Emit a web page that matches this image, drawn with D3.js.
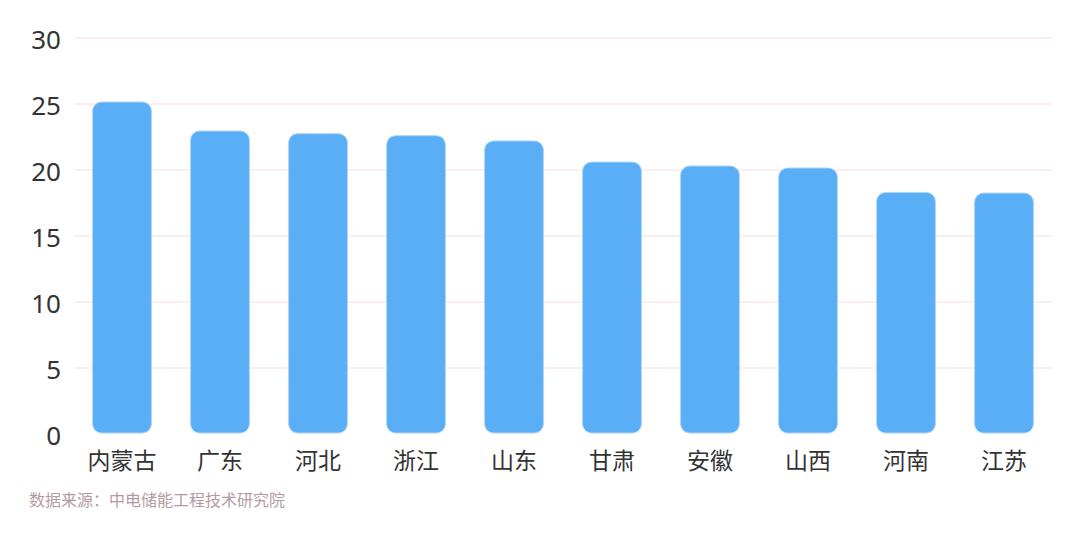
<!DOCTYPE html>
<html lang="zh">
<head>
    <meta charset="UTF-8">
    <title>各省数据</title>
    <script src="https://d3js.org/d3.v7.min.js"></script>
    <style>
        body {
            margin: 0;
            background-color: #ffffff;
            font-family: "Noto Sans CJK SC", "Noto Sans", sans-serif;
        }
        .grid line {
            stroke: #f8dbe3;
            stroke-width: 1px;
        }
        .bar {
            fill: #5aaef5;
            stroke: #a9d4fa;
            stroke-width: 1px;
        }
        .y-label {
            fill: #333;
            font-family: "Noto Sans", sans-serif;
            font-size: 26px;
        }
        .x-label {
            fill: #333;
            font-size: 23px;
        }
        .source {
            fill: #b49ba3;
            font-size: 16px;
        }
    </style>
</head>
<body>
    <svg id="chart" width="1080" height="540"></svg>
    <script>
        // Data
        const provinces = ["内蒙古", "广东", "河北", "浙江", "山东", "甘肃", "安徽", "山西", "河南", "江苏"];
        const values = [25.15, 22.95, 22.75, 22.6, 22.2, 20.6, 20.3, 20.15, 18.3, 18.25];
        const yTicks = [0, 5, 10, 15, 20, 25, 30];
        const sourceText = "数据来源：中电储能工程技术研究院";

        const svg = d3.select("#chart");

        const x = d3.scaleBand()
            .domain(provinces)
            .range([73, 1053])
            .paddingInner(0.4)
            .paddingOuter(0.2);

        const y = d3.scaleLinear()
            .domain([0, 30])
            .range([434, 38]);

        // Gridlines
        svg.append("g")
            .attr("class", "grid")
            .selectAll("line")
            .data(yTicks.filter(d => d > 0))
            .enter()
            .append("line")
            .attr("x1", 75)
            .attr("x2", 1052)
            .attr("y1", d => y(d))
            .attr("y2", d => y(d));

        // Y labels
        svg.append("g")
            .selectAll("text")
            .data(yTicks)
            .enter()
            .append("text")
            .attr("class", "y-label")
            .attr("x", 61)
            .attr("y", d => y(d) + 2)
            .attr("dy", "0.35em")
            .attr("text-anchor", "end")
            .text(d => d);

        // Bars
        svg.append("g")
            .selectAll("rect")
            .data(provinces)
            .enter()
            .append("rect")
            .attr("class", "bar")
            .attr("x", d => x(d))
            .attr("width", x.bandwidth())
            .attr("y", (d, i) => y(values[i]))
            .attr("height", (d, i) => y(0) - y(values[i]) - 1)
            .attr("rx", 9)
            .attr("ry", 9);

        // X labels
        svg.append("g")
            .selectAll("text")
            .data(provinces)
            .enter()
            .append("text")
            .attr("class", "x-label")
            .attr("x", d => x(d) + x.bandwidth() / 2)
            .attr("y", 461)
            .attr("dy", "0.35em")
            .attr("text-anchor", "middle")
            .text(d => d);

        // Source
        svg.append("text")
            .attr("class", "source")
            .attr("x", 29)
            .attr("y", 500)
            .attr("dy", "0.35em")
            .text(sourceText);
    </script>
</body>
</html>
